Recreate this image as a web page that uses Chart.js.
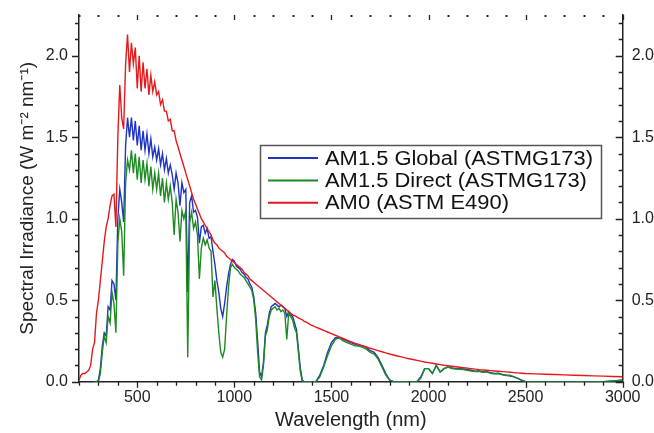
<!DOCTYPE html>
<html>
<head>
<meta charset="utf-8">
<script src="https://cdn.jsdelivr.net/npm/chart.js@4.4.1/dist/chart.umd.min.js"></script>
<style>
  html, body { margin: 0; padding: 0; background: #fff; }
  #wrap { width: 654px; height: 433px; }
</style>
</head>
<body>
<div id="wrap"><canvas id="chart" width="654" height="433"></canvas></div>
<script>
// wavelength grid (nm)
const wavelength = [
  200, 210, 220, 230, 240, 250, 260, 270, 280, 290,
  300, 310, 320, 330, 340, 350, 360, 370, 380, 390,
  400, 410, 420, 430, 440, 450, 460, 470, 480, 490,
  500, 510, 520, 530, 540, 550, 560, 570, 580, 590,
  600, 610, 620, 630, 640, 650, 660, 670, 680, 690,
  700, 710, 720, 730, 740, 750, 760, 770, 780, 790,
  800, 810, 820, 830, 840, 850, 860, 870, 880, 890,
  900, 910, 920, 930, 940, 950, 960, 970, 980, 990,
  1000, 1010, 1020, 1030, 1040, 1050, 1060, 1070, 1080, 1090,
  1100, 1110, 1120, 1130, 1140, 1150, 1160, 1170, 1180, 1190,
  1200, 1210, 1220, 1230, 1240, 1250, 1260, 1270, 1280, 1290,
  1300, 1310, 1320, 1330, 1340, 1350, 1360, 1370, 1380, 1390,
  1400,
  1420, 1440, 1460, 1480, 1500, 1520, 1540, 1560, 1580, 1600,
  1620, 1640, 1660, 1680, 1700, 1720, 1740, 1760, 1780, 1800,
  1820, 1840, 1860, 1880, 1900, 1920, 1940, 1960, 1980, 2000,
  2020, 2040, 2060, 2080, 2100, 2120, 2140, 2160, 2180, 2200,
  2220, 2240, 2260, 2280, 2300, 2320, 2340, 2360, 2380, 2400,
  2420, 2440, 2460, 2480, 2500,
  2550, 2600, 2650, 2700, 2750, 2800, 2850, 2900, 2950, 3000
];

// AM1.5 Global (ASTMG173)
const globalAM15 = [
  null, null, null, null, null, null, null, null, 0, 0,
  0.01, 0.08, 0.22, 0.30, 0.28, 0.46, 0.44, 0.62, 0.60, 0.50,
  1.00, 1.18, 1.10, 0.98, 1.45, 1.62, 1.50, 1.62, 1.48, 1.60,
  1.45, 1.57, 1.42, 1.54, 1.42, 1.52, 1.40, 1.49, 1.38, 1.44,
  1.36, 1.43, 1.33, 1.40, 1.30, 1.37, 1.28, 1.33, 1.27, 1.18,
  1.28, 1.22, 1.08, 1.22, 1.16, 1.18, 0.55, 1.10, 1.14, 1.04,
  1.05, 1.01, 0.85, 0.95, 0.96, 0.91, 0.94, 0.88, 0.89, 0.80,
  0.72, 0.62, 0.55, 0.45, 0.40, 0.48, 0.58, 0.66, 0.72, 0.75,
  0.74, 0.71, 0.70, 0.69, 0.67, 0.66, 0.64, 0.63, 0.60, 0.58,
  0.52, 0.42, 0.25, 0.06, 0.03, 0.12, 0.30, 0.35, 0.42, 0.46,
  0.47, 0.48, 0.47, 0.46, 0.47, 0.46, 0.45, 0.40, 0.43, 0.41,
  0.40, 0.36, 0.32, 0.20, 0.08, 0.01, 0, 0, 0, 0,
  0,
  0, 0.04, 0.10, 0.18, 0.24, 0.27, 0.27, 0.26, 0.25, 0.24,
  0.23, 0.22, 0.22, 0.21, 0.19, 0.18, 0.15, 0.10, 0.05, 0.01,
  0, 0, 0, 0, 0, 0, 0, 0.03, 0.08, 0.08,
  0.05, 0.10, 0.06, 0.08, 0.09, 0.085, 0.08, 0.08, 0.078, 0.075,
  0.07, 0.065, 0.067, 0.06, 0.062, 0.055, 0.05, 0.052, 0.045, 0.04,
  0.035, 0.03, 0.02, 0.01, 0,
  0, 0, 0, 0, 0, 0, 0, 0, 0.005, 0.01
];

// AM1.5 Direct (ASTMG173)
const directAM15 = [
  null, null, null, null, null, null, null, null, 0, 0,
  0.0, 0.05, 0.18, 0.28, 0.24, 0.40, 0.36, 0.55, 0.48, 0.30,
  0.85, 1.00, 0.92, 0.65, 1.22, 1.36, 1.30, 1.42, 1.28, 1.40,
  1.24, 1.38, 1.22, 1.36, 1.24, 1.34, 1.20, 1.32, 1.18, 1.28,
  1.18, 1.28, 1.14, 1.25, 1.10, 1.22, 1.12, 1.20, 1.10, 0.90,
  1.12, 1.04, 0.86, 1.05, 1.00, 1.05, 0.15, 0.98, 1.04, 0.94,
  0.98, 0.90, 0.63, 0.82, 0.88, 0.84, 0.87, 0.82, 0.80, 0.52,
  0.62, 0.45, 0.30, 0.18, 0.15, 0.20, 0.40, 0.58, 0.70, 0.72,
  0.70, 0.69, 0.68, 0.66, 0.65, 0.64, 0.62, 0.60, 0.58, 0.56,
  0.50, 0.38, 0.18, 0.03, 0.01, 0.10, 0.28, 0.32, 0.40, 0.44,
  0.45, 0.46, 0.44, 0.45, 0.43, 0.44, 0.42, 0.26, 0.42, 0.40,
  0.38, 0.33, 0.30, 0.18, 0.06, 0, 0, 0, 0, 0,
  0,
  0, 0.03, 0.09, 0.16, 0.22, 0.26, 0.27, 0.25, 0.24, 0.23,
  0.22, 0.22, 0.21, 0.20, 0.18, 0.17, 0.14, 0.09, 0.04, 0.01,
  0, 0, 0, 0, 0, 0, 0, 0.02, 0.08, 0.08,
  0.05, 0.10, 0.06, 0.08, 0.09, 0.08, 0.078, 0.076, 0.074, 0.07,
  0.066, 0.062, 0.064, 0.058, 0.06, 0.052, 0.048, 0.05, 0.042, 0.038,
  0.04, 0.03, 0.02, 0.008, 0,
  0, 0, 0, 0, 0, 0, 0, 0, 0.004, 0.008
];

// AM0 (ASTM E490)
const am0 = [
  0.01, 0.04, 0.05, 0.05, 0.06, 0.07, 0.10, 0.20, 0.24, 0.42,
  0.50, 0.62, 0.74, 0.86, 0.95, 1.00, 1.08, 1.14, 1.15, 0.95,
  1.50, 1.82, 1.62, 1.55, 1.95, 2.13, 1.90, 2.08, 1.95, 2.05,
  1.80, 2.00, 1.78, 1.96, 1.80, 1.92, 1.76, 1.88, 1.78, 1.84,
  1.76, 1.78, 1.70, 1.73, 1.66, 1.66, 1.60, 1.61, 1.54, 1.54,
  1.48, 1.44, 1.40, 1.36, 1.32, 1.28, 1.24, 1.20, 1.16, 1.12,
  1.09, 1.06, 1.03, 1.00, 0.98, 0.96, 0.94, 0.92, 0.90, 0.87,
  0.85, 0.84, 0.82, 0.81, 0.80, 0.79, 0.77, 0.76, 0.75, 0.74,
  0.73, 0.72, 0.71, 0.70, 0.69, 0.67, 0.66, 0.65, 0.63, 0.62,
  0.61, 0.60, 0.59, 0.58, 0.57, 0.56, 0.55, 0.54, 0.53, 0.52,
  0.51, 0.50, 0.49, 0.48, 0.47, 0.46, 0.45, 0.44, 0.43, 0.42,
  0.41, 0.405, 0.40, 0.39, 0.385, 0.38, 0.37, 0.365, 0.36, 0.35,
  0.345,
  0.335, 0.325, 0.315, 0.305, 0.295, 0.285, 0.275, 0.265, 0.255, 0.245,
  0.237, 0.229, 0.221, 0.213, 0.205, 0.198, 0.191, 0.184, 0.177, 0.17,
  0.164, 0.158, 0.152, 0.146, 0.141, 0.136, 0.131, 0.126, 0.121, 0.117,
  0.113, 0.109, 0.105, 0.101, 0.098, 0.095, 0.092, 0.089, 0.086, 0.083,
  0.080, 0.077, 0.074, 0.072, 0.070, 0.068, 0.066, 0.064, 0.062, 0.060,
  0.058, 0.056, 0.054, 0.052, 0.050,
  0.048, 0.046, 0.044, 0.042, 0.040, 0.038, 0.036, 0.034, 0.032, 0.030
];

const xTicks = [500, 1000, 1500, 2000, 2500, 3000];
const yTicks = [0, 0.5, 1.0, 1.5, 2.0];

const toPoints = vals => wavelength.map((w, i) => ({ x: w, y: vals[i] }));

Chart.defaults.font.family = "'Liberation Sans', Arial, sans-serif";
Chart.defaults.color = '#222';

// minor / major tick marks on all four sides (origin style)
const tickMarks = {
  id: 'tickMarks',
  afterDraw(chart) {
    const { ctx, chartArea: a, scales: { x, y } } = chart;
    ctx.save();
    ctx.strokeStyle = '#222';
    ctx.fillStyle = '#222';
    ctx.lineWidth = 1.3;
    ctx.beginPath();
    for (let w = 200; w <= 3000; w += 100) {
      const px = Math.round(x.getPixelForValue(w)) + 0.5;
      const major = w % 500 === 0;
      ctx.moveTo(px, a.bottom);
      ctx.lineTo(px, a.bottom + (major ? 6 : 4));
      if (major) {
        ctx.moveTo(px, a.top);
        ctx.lineTo(px, a.top + 5);
      } else {
        ctx.fillRect(px - 1, a.top, 2, 2);
      }
    }
    for (let i = 0; i <= 22; i++) {
      const py = Math.round(y.getPixelForValue(i / 10)) + 0.5;
      const len = i % 5 === 0 ? 7 : 4;
      ctx.moveTo(a.left - len, py);
      ctx.lineTo(a.left, py);
      ctx.moveTo(a.right - len, py);
      ctx.lineTo(a.right, py);
    }
    ctx.stroke();
    ctx.restore();
  }
};

// framed legend inside the plot
const boxLegend = {
  id: 'boxLegend',
  afterDraw(chart) {
    const ctx = chart.ctx;
    const sets = chart.data.datasets;
    ctx.save();
    ctx.fillStyle = '#fff';
    ctx.fillRect(260, 145, 341, 73);
    ctx.strokeStyle = '#555';
    ctx.lineWidth = 1.5;
    ctx.strokeRect(260.5, 145.5, 341, 73);
    ctx.font = "20px 'Liberation Sans', Arial, sans-serif";
    ctx.textBaseline = 'middle';
    const sx = 268 / ctx.measureText(sets[0].label).width;
    sets.forEach((ds, i) => {
      const yy = 158 + i * 22.4;
      ctx.strokeStyle = ds.borderColor;
      ctx.lineWidth = 2;
      ctx.beginPath();
      ctx.moveTo(268, yy);
      ctx.lineTo(318, yy);
      ctx.stroke();
      ctx.save();
      ctx.translate(325, yy + 1);
      ctx.scale(sx, 1);
      ctx.fillStyle = '#111';
      ctx.fillText(ds.label, 0, 0);
      ctx.restore();
    });
    ctx.restore();
  }
};

const noPad = s => { s.paddingTop = 0; s.paddingBottom = 0; s.paddingLeft = 0; s.paddingRight = 0; };

new Chart(document.getElementById('chart'), {
  type: 'line',
  data: {
    datasets: [
      { label: 'AM1.5 Global (ASTMG173)', data: toPoints(globalAM15), borderColor: '#1f34c4', order: 3 },
      { label: 'AM1.5 Direct (ASTMG173)', data: toPoints(directAM15), borderColor: '#1e8a22', order: 2 },
      { label: 'AM0 (ASTM E490)', data: toPoints(am0), borderColor: '#e5191c', order: 1 }
    ]
  },
  options: {
    responsive: false,
    animation: false,
    layout: { padding: { top: 15, left: 0, right: 0, bottom: 0 } },
    elements: { point: { radius: 0 }, line: { borderWidth: 1.4, tension: 0 } },
    plugins: { legend: { display: false }, tooltip: { enabled: false } },
    scales: {
      x: {
        type: 'linear', position: 'bottom', min: 200, max: 3000,
        grid: { display: false, drawTicks: false },
        border: { display: true, color: '#222', width: 1.5 },
        ticks: { font: { size: 16 }, padding: 6, autoSkip: false, maxRotation: 0, callback: v => String(v) },
        afterBuildTicks: s => { s.ticks = xTicks.map(v => ({ value: v })); },
        afterFit: s => { s.height = 51.3; noPad(s); },
        title: { display: true, text: 'Wavelength (nm)', font: { size: 20 }, padding: { top: 0, bottom: 1 } }
      },
      y: {
        position: 'left', min: 0, max: 2.25,
        grid: { display: false, drawTicks: false },
        border: { display: true, color: '#222', width: 1.5 },
        ticks: { font: { size: 16 }, padding: 11, autoSkip: false, callback: v => v.toFixed(1) },
        afterBuildTicks: s => { s.ticks = yTicks.map(v => ({ value: v })); },
        afterFit: s => { s.width = 79; noPad(s); },
        title: { display: true, text: 'Spectral Irradiance (W m⁻² nm⁻¹)', font: { size: 19 }, padding: { top: 16, bottom: 0 } }
      },
      y2: {
        position: 'right', min: 0, max: 2.25,
        grid: { display: false, drawTicks: false },
        border: { display: true, color: '#222', width: 1.5 },
        ticks: { font: { size: 16 }, padding: 9, autoSkip: false, callback: v => v.toFixed(1) },
        afterBuildTicks: s => { s.ticks = yTicks.map(v => ({ value: v })); },
        afterFit: s => { s.width = 31.3; noPad(s); }
      }
    }
  },
  plugins: [tickMarks, boxLegend]
});
</script>
</body>
</html>
